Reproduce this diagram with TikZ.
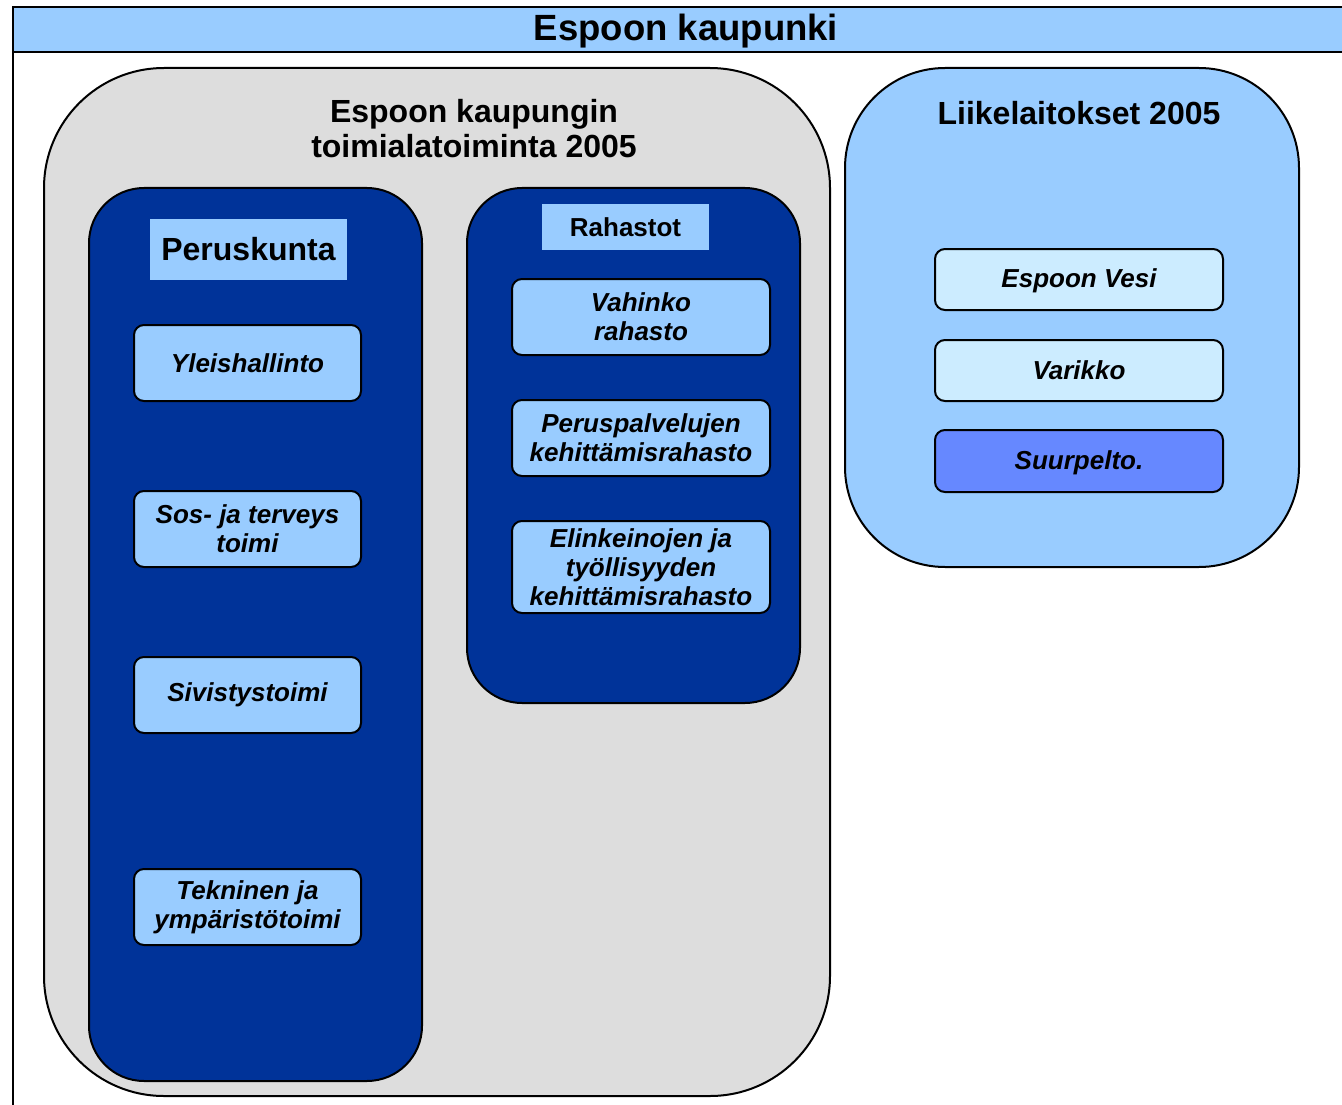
\documentclass[tikz,border=0pt]{standalone}
\usepackage{fontspec}
\setmainfont{Liberation Sans}
\definecolor{lblue}{HTML}{99CCFF}
\definecolor{dblue}{HTML}{003399}
\definecolor{lgray}{HTML}{DDDDDD}
\definecolor{pale}{HTML}{CCECFF}
\definecolor{mblue}{HTML}{6688FF}
\begin{document}
\begin{tikzpicture}[x=1pt,y=-1pt,
  box/.style={draw=black,line width=2pt,anchor=north west,inner sep=0pt,outer sep=0pt},
  bigbox/.style={box,rounded corners=#1},
  item/.style={box,rounded corners=10pt,fill=lblue,align=center,
    font=\fontsize{26}{29}\selectfont\bfseries\itshape},
  label/.style={anchor=north west,inner sep=0pt,outer sep=0pt,fill=lblue,align=center},
  head/.style={align=center,font=\fontsize{32}{35}\selectfont\bfseries}]
\useasboundingbox (0,0) rectangle (1342,1105);
% title bar and frame
\node[box,fill=lblue,minimum width=1400pt,minimum height=45pt] (title) at (13,7) {};
\node at (686,31) (titletext) {\fontsize{36.5}{40}\selectfont\bfseries Espoon kaupunki};
\coordinate (fbot) at (13,1120);
\draw[line width=2pt] (title.south west) -- (fbot);
% gray container
\node[bigbox=120pt,fill=lgray,minimum width=786pt,minimum height=1028pt] (toimiala) at (44,68) {};
\node[head] (toimialat) at (474,129) {Espoon kaupungin\\toimialatoiminta 2005};
% Liikelaitokset
\node[bigbox=100pt,fill=lblue,minimum width=454pt,minimum height=499pt] (liike) at (845,68) {};
\node[head] (liiket) at (1079,113) {Liikelaitokset 2005};
% Peruskunta
\node[bigbox=55pt,fill=dblue,minimum width=333pt,minimum height=893pt] (perus) at (89,188) {};
\node[label,minimum width=197pt,minimum height=61pt,font=\fontsize{32}{35}\selectfont\bfseries] (perust) at (150,219) {Peruskunta};
\node[item,minimum width=227pt,minimum height=76pt] (yleis) at (134,325) {Yleishallinto};
\node[item,minimum width=227pt,minimum height=76pt] (sos) at (134,491) {Sos- ja terveys\\toimi};
\node[item,minimum width=227pt,minimum height=76pt] (sivis) at (134,657) {Sivistystoimi};
\node[item,minimum width=227pt,minimum height=76pt] (tekn) at (134,869) {Tekninen ja\\ympäristötoimi};
% Rahastot
\node[bigbox=55pt,fill=dblue,minimum width=333pt,minimum height=515pt] (rahas) at (467,188) {};
\node[label,minimum width=167pt,minimum height=46pt,font=\fontsize{26}{29}\selectfont\bfseries] (rahast) at (542,204) {Rahastot};
\node[item,minimum width=258pt,minimum height=76pt] (vahinko) at (512,279) {Vahinko\\rahasto};
\node[item,minimum width=258pt,minimum height=76pt] (peruspal) at (512,400) {Peruspalvelujen\\kehittämisrahasto};
\node[item,minimum width=258pt,minimum height=92pt] (elink) at (512,521) {Elinkeinojen ja\\työllisyyden\\kehittämisrahasto};
% Liikelaitokset items
\node[item,fill=pale,minimum width=288pt,minimum height=61pt,text depth=2pt] (vesi) at (935,249) {Espoon Vesi};
\node[item,fill=pale,minimum width=288pt,minimum height=61pt] (varikko) at (935,340) {Varikko};
\node[item,fill=mblue,minimum width=288pt,minimum height=62pt,text depth=2pt] (suurp) at (935,430) {Suurpelto.};
\end{tikzpicture}
\end{document}
